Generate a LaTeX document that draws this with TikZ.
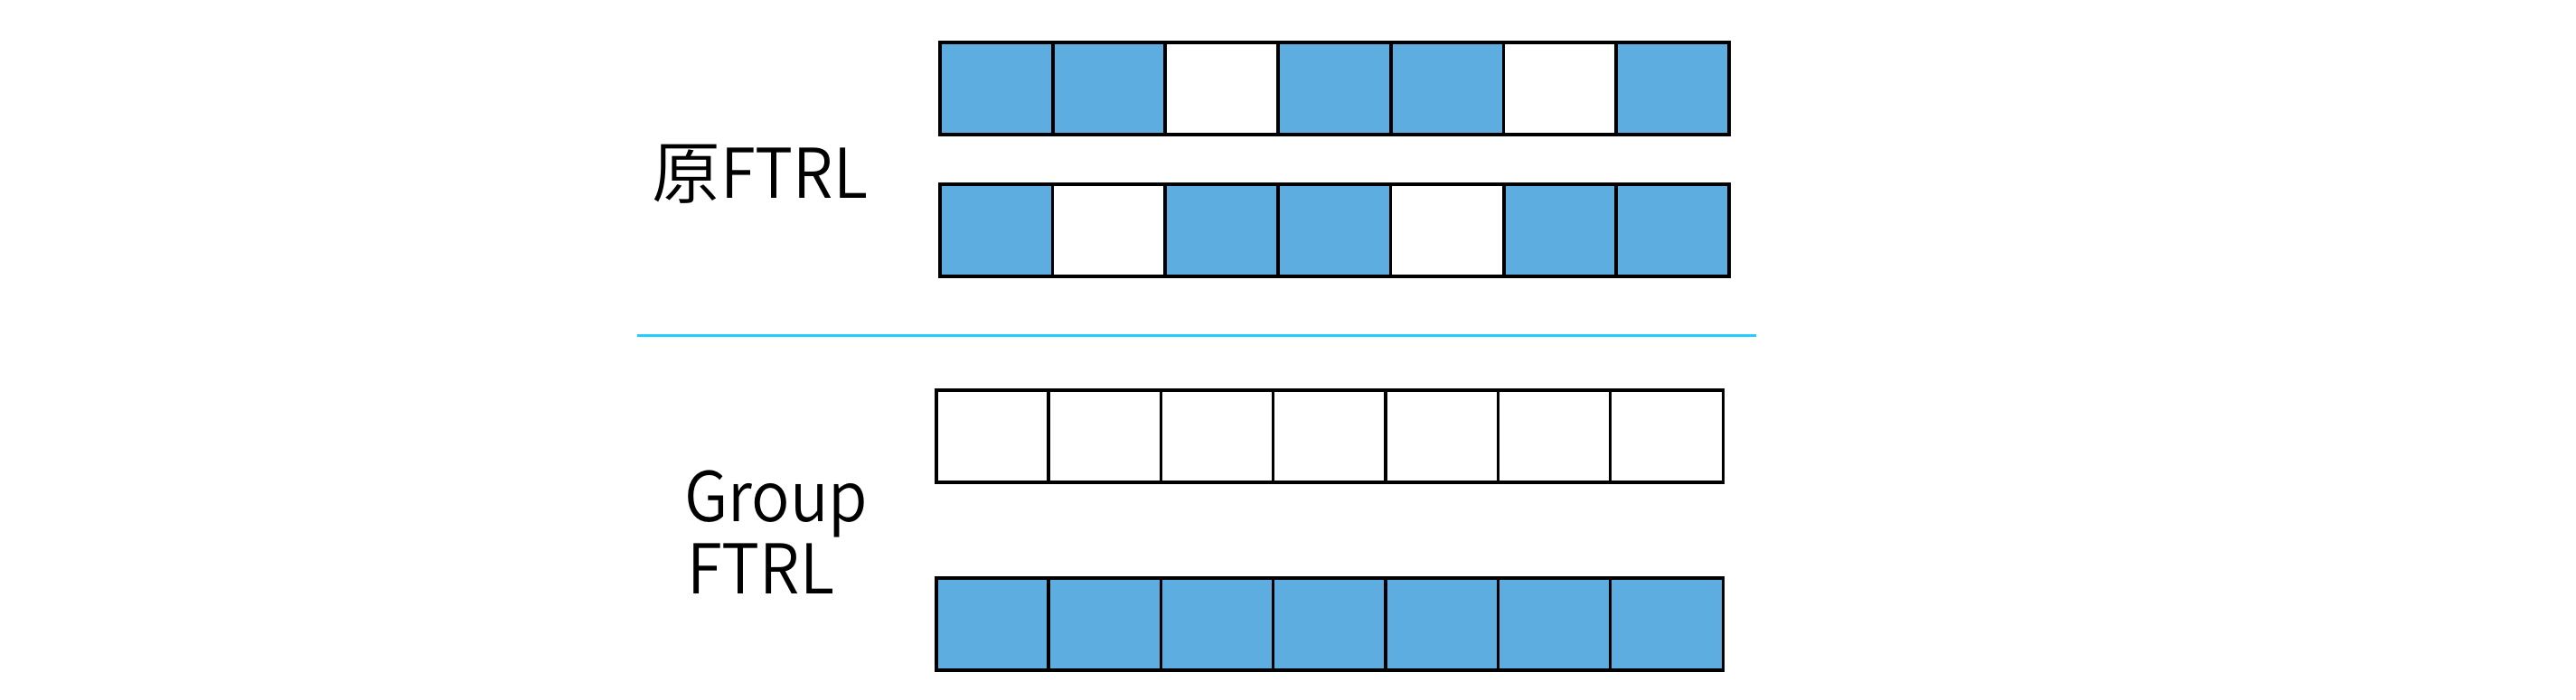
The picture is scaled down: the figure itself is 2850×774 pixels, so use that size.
\documentclass[tikz,border=0pt]{standalone}
\usepackage{fontspec}
\setmainfont{Noto Sans CJK SC DemiLight}[FakeStretch=0.93]
\newfontfamily\cjk{Noto Sans CJK SC DemiLight}
\definecolor{cellblue}{HTML}{5DADE0}
\definecolor{sepcyan}{HTML}{22CEFF}
\tikzset{
  cellbox/.style={draw=black, line width=4pt, rectangle, inner sep=0pt,
    minimum width=124.7pt, minimum height=102pt, anchor=north west},
  bluecell/.style={cellbox, fill=cellblue},
  whitecell/.style={cellbox, fill=white, line width=3.5pt},
  lbl/.style={inner sep=0pt, anchor=base west, font=\fontsize{76}{80}\selectfont}
}
\begin{document}
\begin{tikzpicture}[x=1pt,y=-1pt]
\useasboundingbox (0,0) rectangle (2850,774);
% row 1: B B W B B W B
\foreach \c [count=\i from 0] in {bluecell,bluecell,whitecell,bluecell,bluecell,whitecell,bluecell}
  \node[\c] (ra\i) at (1038+\i*124.7,45) {};
% row 2: B W B B W B B
\foreach \c [count=\i from 0] in {bluecell,whitecell,bluecell,bluecell,whitecell,bluecell,bluecell}
  \node[\c] (rb\i) at (1038+\i*124.7,202) {};
% row 3: all white
\foreach \i in {0,...,6}
  \node[whitecell] (rc\i) at (1034+\i*124.3,430) {};
% row 4: all blue
\foreach \i in {0,...,6}
  \node[bluecell, line width=3.5pt] (rd\i) at (1034+\i*124.3,638) {};
% separator
\coordinate (sepL) at (705,371);
\coordinate (sepR) at (1943,371);
\draw[sepcyan, line width=3pt] (sepL) -- (sepR);
% labels
\node[lbl] (orig) at (721,219) {{\cjk 原}FTRL};
\node[lbl] (grp) at (757,577) {Group};
\node[lbl] (ftrl) at (760,657) {FTRL};
\end{tikzpicture}
\end{document}
